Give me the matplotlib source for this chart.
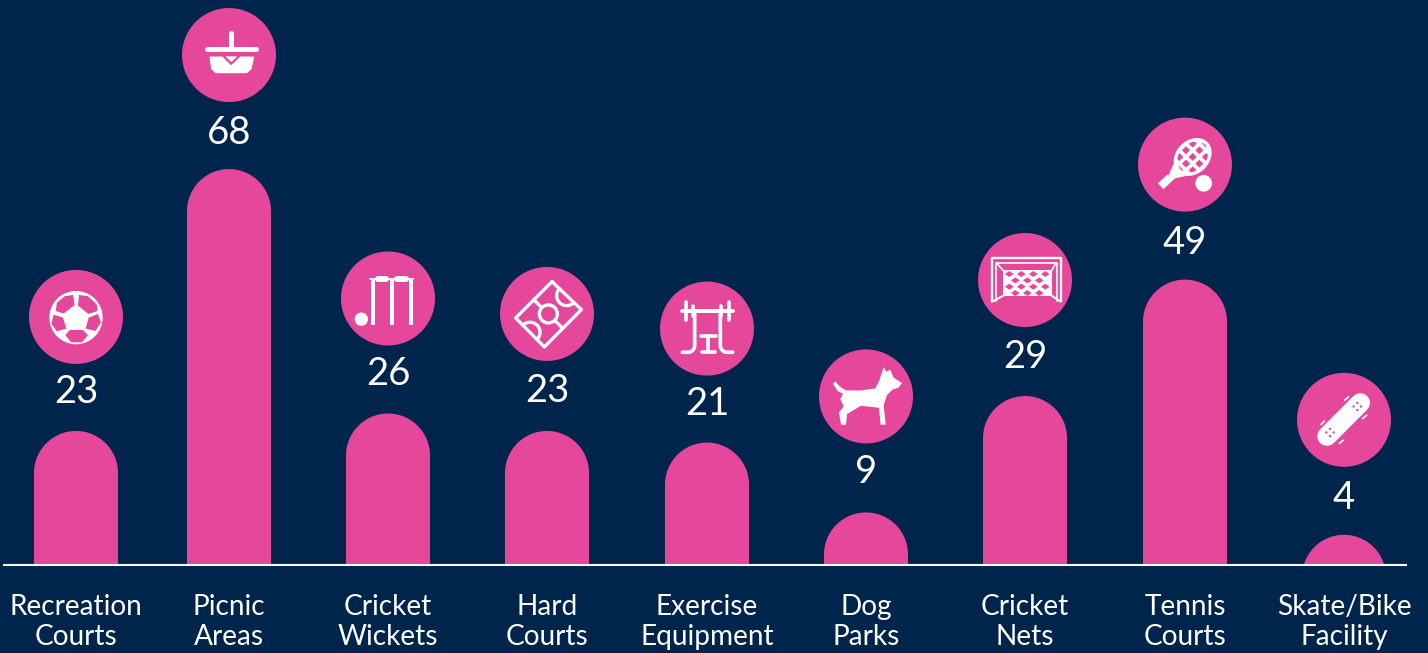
import numpy as np
import matplotlib
matplotlib.use("Agg")
import matplotlib.pyplot as plt
from matplotlib.patches import Polygon, Circle, Ellipse, Rectangle
from matplotlib.transforms import Affine2D

categories = ["Recreation\nCourts", "Picnic\nAreas", "Cricket\nWickets", "Hard\nCourts",
              "Exercise\nEquipment", "Dog\nParks", "Cricket\nNets", "Tennis\nCourts", "Skate/Bike\nFacility"]
values = [23, 68, 26, 23, 21, 9, 29, 49, 4]
bar_heights = [23, 68, 26, 23, 21, 9, 29, 49, 5.15]   # drawn height

x_pos = [76, 229, 388, 547, 707, 866, 1025, 1185, 1344]
icon_gap = [114, 114, 115, 117, 114, 116, 116, 115, 115]  # px from bar top to badge centre
label_gap = [75, 78, 76, 77, 75, 76, 77, 78, 78]          # px from badge centre to value text

W, H = 1428, 653
BASE = 564.8
PX_PER_UNIT = 5.82
BAR_W = 84
BADGE_R = 47
BG = "#00254C"
PINK = "#E5479A"
WHITE = "#FFFFFF"
FONT = ["Lato", "DejaVu Sans"]

fig = plt.figure(figsize=(W / 100, H / 100), dpi=100, facecolor=BG)
ax = fig.add_axes([0, (H - BASE) / H, 1, BASE / H], facecolor=BG)
ax.set_xlim(0, W)
ax.set_ylim(0, BASE / PX_PER_UNIT)
for s in ("top", "left", "right"):
    ax.spines[s].set_visible(False)
ax.spines["bottom"].set_color(WHITE)
ax.spines["bottom"].set_linewidth(1.5)
ax.spines["bottom"].set_bounds(4, 1406)
ax.set_yticks([])
ax.set_xticks(x_pos, categories, fontsize=20.2, color=WHITE, family=FONT)
ax.tick_params(axis="x", length=0, pad=21)
for t in ax.get_xticklabels():
    t.set_linespacing(1.2)


def capped_bar(xc, h):
    r = BAR_W / 2
    ry = r / PX_PER_UNIT
    th = np.linspace(0, np.pi, 80)
    xs = xc + r * np.cos(th)
    ys = h - ry + ry * np.sin(th)
    pts = [(xc + r, -20)] + list(zip(xs, ys)) + [(xc - r, -20)]
    return Polygon(pts, closed=True, fc=PINK, ec="none", zorder=2)


def zlw(z):
    return z / 3 * 0.72


def draw_line(tr, pts, z, color=WHITE, cap="round", zorder=5):
    xs, ys = zip(*pts)
    ax.plot(xs, ys, color=color, lw=zlw(z), solid_capstyle=cap, solid_joinstyle="round",
            transform=tr, zorder=zorder)


def draw_poly(tr, pts, color=WHITE, zorder=5, edge=0):
    ax.add_patch(Polygon(pts, closed=True, fc=color, ec=color if edge else "none", lw=zlw(edge),
                         joinstyle="round", transform=tr, zorder=zorder))


def draw_circ(tr, c, r, color=WHITE, zorder=5):
    ax.add_patch(Circle(c, r, fc=color, ec="none", transform=tr, zorder=zorder))


# Icons are sketched in a local 3x pixel frame with y pointing down
def icon_ball(tr):
    draw_circ(tr, (168, 172), 80)
    panels = [
        [(107, 152), (111, 127), (134, 108), (159, 104), (164, 134), (131, 160)],
        [(177, 104), (204, 108), (230, 132), (233, 152), (205, 161), (174, 136)],
        [(206, 172), (234, 161), (243, 187), (226, 212), (197, 205)],
        [(101, 163), (129, 172), (139, 205), (110, 213), (94, 190)],
        [(150, 209), (188, 209), (204, 224), (186, 246), (153, 246), (136, 224)],
    ]
    for p in panels:
        draw_poly(tr, p, PINK, zorder=6)


def icon_basket(tr):
    draw_line(tr, [(168, 98), (168, 146)], 15)
    draw_line(tr, [(94, 147), (242, 147)], 15)
    draw_poly(tr, [(105, 171), (140, 171), (167, 198), (196, 171), (234, 171), (226, 205),
                   (214, 216), (122, 216), (110, 205)], edge=5)
    draw_poly(tr, [(150, 168), (186, 168), (168, 185)])


def icon_wicket(tr):
    draw_circ(tr, (85, 222), 20)
    for sx in (120, 177, 234):
        draw_line(tr, [(sx, 106), (sx, 240)], 12, cap="butt")
    draw_line(tr, [(108, 101), (243, 101)], 5, cap="butt")
    for a, b in ((136, 160), (192, 218)):
        draw_line(tr, [(a, 101), (b, 101)], 18)


def icon_field(tr):
    c = [(180, 66), (268, 150), (157, 262), (71, 175)]
    draw_line(tr, c + [c[0]], 10)
    draw_line(tr, [(125, 120), (212, 206)], 10)
    ax.add_patch(Circle((169, 163), 27, fc=PINK, ec=WHITE, lw=zlw(10), transform=tr, zorder=6))
    angles = np.radians(np.linspace(-45, 135, 40))
    for cen, sign in (((224, 108), 1), ((114, 218), -1)):
        pts = [(cen[0] - sign * 30 * np.cos(a), cen[1] + sign * 30 * np.sin(a)) for a in angles]
        draw_line(tr, pts, 10)


def icon_gym(tr):
    draw_line(tr, [(88, 110), (243, 110)], 12)
    for px_, a, b in ((100, 82, 138), (230, 82, 138), (122, 95, 125), (206, 95, 125)):
        draw_line(tr, [(px_, a), (px_, b)], 11)
    th = np.linspace(0, np.pi / 2, 10)
    left = [(127, 110)] + [(107 + 20 * np.cos(t), 214 + 20 * np.sin(t)) for t in th] + [(90, 234)]
    right = [(204, 110)] + [(224 - 20 * np.cos(t), 214 + 20 * np.sin(t)) for t in th] + [(241, 234)]
    draw_line(tr, left, 11)
    draw_line(tr, right, 11)
    draw_line(tr, [(147, 186), (190, 186)], 11)
    draw_line(tr, [(167, 186), (167, 232)], 11)
    draw_line(tr, [(149, 232), (187, 232)], 11)


def icon_dog(tr):
    pts = [(66, 126), (73, 119), (86, 134), (105, 146), (150, 146), (193, 140), (205, 116), (218, 76),
           (226, 90), (238, 84), (248, 108), (273, 124), (262, 138), (244, 144), (228, 160), (218, 190),
           (224, 249), (209, 249), (204, 198), (150, 192), (108, 217), (105, 249), (90, 249), (84, 212),
           (98, 194), (88, 172), (96, 156), (80, 148)]
    draw_poly(tr, pts)


def icon_goal(tr):
    draw_line(tr, [(66, 230), (66, 99), (272, 99), (272, 230)], 7, cap="butt")
    draw_line(tr, [(78, 230), (78, 112), (260, 112), (260, 230)], 5, cap="butt")
    draw_line(tr, [(66, 229), (100, 211)], 6)
    draw_line(tr, [(272, 229), (245, 211)], 6)
    draw_line(tr, [(80, 113), (100, 136)], 5)
    draw_line(tr, [(258, 113), (245, 136)], 5)
    ax.add_patch(Rectangle((100, 134), 146, 78, fc=WHITE, ec="none", transform=tr, zorder=5))
    for row in range(4):
        for col in range(4):
            cx = 118 + col * 36 + (row % 2) * 18
            cy = 146 + row * 19
            if cx < 240:
                draw_poly(tr, [(cx, cy - 9), (cx + 13, cy), (cx, cy + 9), (cx - 13, cy)], PINK, zorder=6)


def icon_tennis(tr):
    draw_line(tr, [(91, 229), (120, 202)], 24, cap="butt")
    draw_poly(tr, [(115, 195), (135, 150), (150, 185), (190, 193), (135, 205), (125, 212)])
    ax.add_patch(Ellipse((187, 141), 126, 100, angle=-45, fc=WHITE, ec="none", transform=tr, zorder=5))
    inner = Ellipse((187, 141), 104, 80, angle=-45, fc="none", ec="none", transform=tr, zorder=5)
    ax.add_patch(inner)
    for i in range(-3, 4):
        for j in range(-3, 4):
            cx = 187 + (i - j) * 20
            cy = 141 + (i + j) * 20
            d = 12
            sq = Polygon([(cx, cy - d), (cx + d, cy), (cx, cy + d), (cx - d, cy)], closed=True,
                         fc=PINK, ec="none", transform=tr, zorder=6)
            ax.add_patch(sq)
            sq.set_clip_path(inner)
    draw_circ(tr, (220, 220), 25)


def icon_skate(tr):
    draw_line(tr, [(113, 213), (213, 113)], 58)
    for cen in ((122, 202), (204, 124)):
        for dx, dy in ((0, -11), (-11, 0), (11, 0), (0, 11)):
            draw_circ(tr, (cen[0] + dx, cen[1] + dy), 3.6, PINK, zorder=6)
    for seg in (((166, 105), (178, 95)), ((220, 160), (232, 150)), ((95, 178), (105, 168)), ((150, 235), (162, 225))):
        draw_line(tr, seg, 5)


icons = [icon_ball, icon_basket, icon_wicket, icon_field, icon_gym, icon_dog, icon_goal, icon_tennis, icon_skate]
icon_origin = [(168, 170), (161, 164), (165, 160), (165, 163), (164, 163), (165, 164), (165, 164), (164, 164), (164, 164)]

for xc, h, v, gap, lgap, fn, org in zip(x_pos, bar_heights, values, icon_gap, label_gap, icons, icon_origin):
    ax.add_patch(capped_bar(xc, h))
    cy_data = h + gap / PX_PER_UNIT
    ax.add_patch(Circle(ax.transData.transform((xc, cy_data)), BADGE_R, fc=PINK, ec="none",
                        transform=Affine2D(), zorder=3))
    ax.text(xc, cy_data - lgap / PX_PER_UNIT, str(v), ha="center", va="center", fontsize=27.5,
            color=WHITE, family=FONT, zorder=4)
    px, py = ax.transData.transform((xc, cy_data))
    tr = Affine2D().translate(-org[0], -org[1]).scale(1 / 3, -1 / 3).translate(px, py)
    fn(tr)

ax.set_xlim(0, W)
ax.set_ylim(0, BASE / PX_PER_UNIT)
fig.savefig("out.png", dpi=100, facecolor=BG)
